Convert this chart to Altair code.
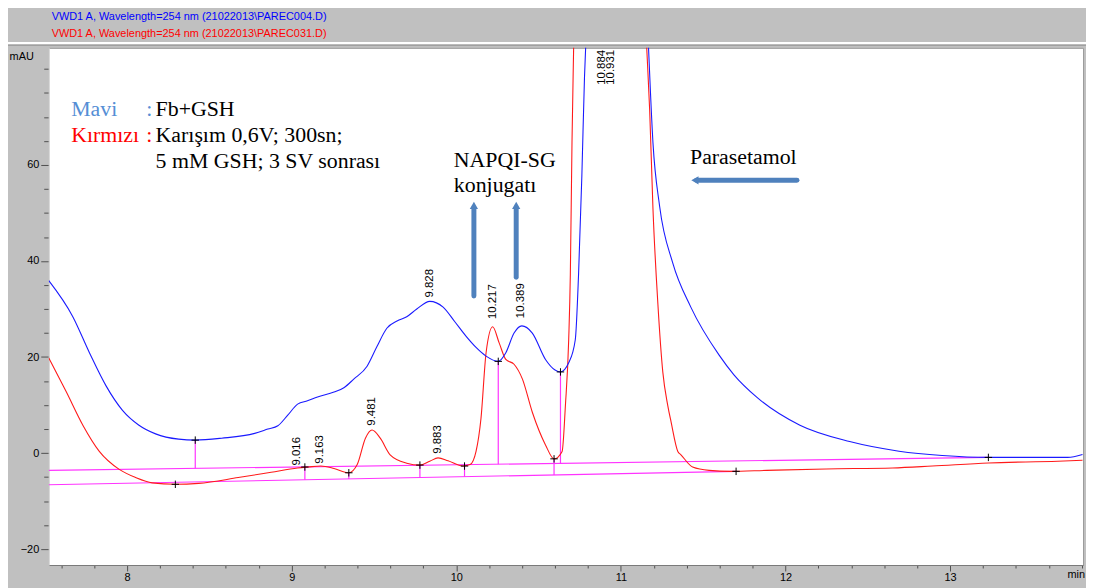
import altair as alt
import pandas as pd
import numpy as np

# ---------------- data ----------------
# Blue trace (Mavi: Fb+GSH); 350 = off-scale apex of the clipped main peak
BLUE_T = [7.524, 7.670, 7.771, 7.872, 7.972, 8.072, 8.173, 8.313, 8.414, 8.574,
          8.775, 8.855, 8.916, 8.976, 9.036, 9.096, 9.157, 9.257, 9.317, 9.377,
          9.458, 9.518, 9.578, 9.640, 9.699, 9.760, 9.839, 9.920, 9.990, 10.060,
          10.120, 10.181, 10.255, 10.301, 10.351, 10.398, 10.462, 10.542, 10.600, 10.633,
          10.683, 10.723, 10.743, 10.763, 10.779, 10.786, 10.931, 11.168, 11.195, 11.235,
          11.315, 11.425, 11.597, 11.687, 11.827, 12.088, 12.390, 12.690, 12.952, 13.233,
          13.715, 13.805]
BLUE_V = [35.9, 28.4, 20.9, 14.0, 8.9, 5.8, 4.0, 2.9, 2.7, 3.1,
          4.1, 5.0, 5.7, 7.9, 10.2, 10.9, 11.7, 12.7, 13.6, 15.4,
          18.1, 22.2, 26.0, 27.5, 28.4, 30.0, 31.6, 30.4, 27.4, 24.3,
          22.0, 20.2, 19.1, 20.9, 25.0, 26.5, 25.0, 19.5, 17.3, 16.9,
          18.8, 23.6, 37.3, 57.8, 78.3, 84.4, 350.0, 84.4, 64.6, 51.5,
          39.6, 30.4, 20.4, 16.3, 11.6, 5.8, 2.4, 0.4, -0.5, -0.9,
          -0.9, -0.3]

# Red trace (Kırmızı: mixture)
RED_T = [7.524, 7.631, 7.731, 7.831, 7.952, 8.052, 8.152, 8.293, 8.434, 8.675,
         8.875, 9.036, 9.100, 9.177, 9.257, 9.347, 9.398, 9.448, 9.488, 9.538,
         9.598, 9.699, 9.779, 9.839, 9.889, 9.950, 10.040, 10.084, 10.120, 10.150,
         10.181, 10.221, 10.261, 10.301, 10.351, 10.402, 10.462, 10.542, 10.594, 10.643,
         10.663, 10.683, 10.693, 10.703, 10.713, 10.884, 11.157, 11.175, 11.195, 11.225,
         11.255, 11.285, 11.305, 11.346, 11.365, 11.436, 11.536, 11.667, 11.886, 12.247,
         12.651, 12.892, 13.233, 13.655, 13.805]
RED_V = [19.8, 12.7, 5.8, 0.35, -3.4, -5.1, -6.2, -6.5, -6.3, -5.1,
         -4.0, -3.1, -2.9, -2.7, -3.2, -4.1, -2.4, 3.1, 4.8, 3.1,
         -0.35, -2.1, -2.5, -1.7, -1.0, -1.6, -2.7, -2.4, 0.35, 7.2,
         20.9, 26.3, 22.9, 19.5, 18.5, 15.4, 8.5, 1.7, -1.2, 0.35,
         9.9, 23.6, 37.3, 64.6, 84.4, 350.0, 84.4, 71.4, 50.9, 31.0,
         16.8, 9.9, 6.5, 0.35, -0.35, -2.9, -3.6, -3.8, -3.6, -3.3,
         -3.1, -2.7, -2.05, -1.7, -1.5]

# Integration baselines (magenta)
BASE_UP_T = [7.5235, 13.233]
BASE_UP_V = [-3.6, -0.9]
BASE_LO_T = [7.5235, 11.70]
BASE_LO_V = [-6.6, -3.8]

# Drop lines: time, value on the trace, which baseline
DROP_T = [8.414, 10.255, 10.633, 9.080, 9.347, 9.779, 10.050, 10.594]
DROP_V = [2.7, 19.1, 16.9, -2.9, -4.1, -2.5, -2.7, -1.2]
DROP_B = ["up", "up", "up", "lo", "lo", "lo", "lo", "lo"]

# Integration event marks (+)
EVT_T = [8.293, 8.414, 9.080, 9.347, 9.779, 10.050, 10.255, 10.594, 10.633, 11.700, 13.233]
EVT_V = [-6.5, 2.7, -2.9, -4.1, -2.5, -2.7, 19.1, -1.2, 16.9, -3.8, -0.9]

# Retention-time labels
PEAK_TEXT = ["9.016", "9.163", "9.481", "9.828", "9.883", "10.217", "10.389", "10.884", "10.931"]
PEAK_T = [9.031, 9.174, 9.490, 9.838, 9.892, 10.224, 10.394, 10.883, 10.940]
PEAK_V = [-2.6, -2.2, 5.7, 32.4, -0.15, 27.9, 28.1, 76.7, 76.7]

# Annotation texts
ANN_TEXT = ["Mavi", ":", "Fb+GSH", "Kırmızı", ":", "Karışım 0,6V; 300sn;",
            "5 mM GSH; 3 SV sonrası", "NAPQI-SG", "konjugatı", "Parasetamol"]
ANN_T = [7.660, 8.116, 8.173, 7.660, 8.116, 8.173, 8.173, 9.985, 9.985, 11.420]
ANN_V = [70.1, 70.1, 70.1, 64.75, 64.75, 64.75, 59.45, 59.6, 54.3, 60.3]
ANN_COLOR = ["#558ed5", "#558ed5", "black", "#ff0000", "#ff0000", "black",
             "black", "black", "black", "black"]

# Arrows
VARROW_T = [10.107, 10.364]
VARROW_V0 = [32.7, 36.6]
VARROW_V1 = [51.0, 51.0]
VHEAD_V = [51.6, 51.6]
HARROW_T0 = [11.46]
HARROW_T1 = [12.07]
HARROW_V = [56.8]
HHEAD_T = [11.45]

HEADER = ["VWD1 A, Wavelength=254 nm (21022013\\PAREC004.D)",
          "VWD1 A, Wavelength=254 nm (21022013\\PAREC031.D)"]
HEADER_COLOR = ["#0000ff", "#ff0000"]

X_TICKS = [7.6, 7.8, 8.0, 8.2, 8.4, 8.6, 8.8, 9.0, 9.2, 9.4, 9.6, 9.8, 10.0, 10.2,
           10.4, 10.6, 10.8, 11.0, 11.2, 11.4, 11.6, 11.8, 12.0, 12.2, 12.4, 12.6,
           12.8, 13.0, 13.2, 13.4, 13.6, 13.8]
Y_TICKS = [-20, -15, -10, -5, 0, 5, 10, 15, 20, 25, 30, 35, 40, 45, 50, 55, 60,
           65, 70, 75, 80]
Y_LABELLED = [-20, 0, 20, 40, 60]

X_DOMAIN = [7.5235, 13.808]
Y_DOMAIN = [-23.31, 84.39]

W, H = 1042, 521
SANS = "Liberation Sans"
SERIF = "Liberation Serif"
MAGENTA = "#ff33ff"
ARROW = "#4f81bd"

# ---------------- scales / axes ----------------
is_major_x = "abs(datum.value - round(datum.value)) < 0.001"
xaxis = alt.Axis(values=X_TICKS, title=None, grid=False,
                 labelExpr=f"{is_major_x} ? format(datum.value, 'd') : ''",
                 tickSize={"condition": {"test": is_major_x, "value": 6}, "value": 3},
                 tickColor="#505050", domainColor="#7a7a7a",
                 labelFont=SANS, labelFontSize=11, labelColor="black",
                 labelPadding=1, labelOverlap=False, labelFlush=False)
is_major_y = "indexof(" + str(Y_LABELLED) + ", datum.value) >= 0"
yaxis = alt.Axis(values=Y_TICKS, title=None, grid=False,
                 labelExpr=f"{is_major_y} ? datum.label : ''",
                 tickSize={"condition": {"test": is_major_y, "value": 8}, "value": 5},
                 tickColor="#505050", domainColor="#e8e8e8",
                 labelFont=SANS, labelFontSize=11, labelColor="black",
                 labelPadding=2, labelOverlap=False, labelFlush=False)
xs = alt.Scale(domain=X_DOMAIN, nice=False, zero=False)
ys = alt.Scale(domain=Y_DOMAIN, nice=False, zero=False)
X = alt.X("t:Q", scale=xs, axis=xaxis)
Y = alt.Y("v:Q", scale=ys, axis=yaxis)

# ---------------- tables ----------------
blue_df = pd.DataFrame({"t": BLUE_T, "v": BLUE_V})
red_df = pd.DataFrame({"t": RED_T, "v": RED_V})
base_df = pd.DataFrame({"t": BASE_UP_T + BASE_LO_T, "v": BASE_UP_V + BASE_LO_V,
                        "b": ["up", "up", "lo", "lo"]})
drop_base = [float(np.interp(t, BASE_UP_T, BASE_UP_V)) if b == "up"
             else float(np.interp(t, BASE_LO_T, BASE_LO_V)) for t, b in zip(DROP_T, DROP_B)]
drop_df = pd.DataFrame({"t": DROP_T, "v": DROP_V, "v2": drop_base})
evt_df = pd.DataFrame({"t": EVT_T, "v": EVT_V})
peak_df = pd.DataFrame({"t": PEAK_T, "v": PEAK_V, "txt": PEAK_TEXT})
ann_df = pd.DataFrame({"t": ANN_T, "v": ANN_V, "txt": ANN_TEXT, "c": ANN_COLOR})
varrow_df = pd.DataFrame({"t": VARROW_T, "v": VARROW_V0, "v2": VARROW_V1, "vh": VHEAD_V})
harrow_df = pd.DataFrame({"t": HARROW_T0, "t2": HARROW_T1, "v": HARROW_V, "th": HHEAD_T})
one = pd.DataFrame({"a": [0]})

# ---------------- layers ----------------
base_lines = alt.Chart(base_df).mark_line(color=MAGENTA, strokeWidth=1.2, clip=True).encode(
    x=X, y=Y, detail="b:N")
drops = alt.Chart(drop_df).mark_rule(color=MAGENTA, strokeWidth=1.2).encode(x=X, y=Y, y2="v2:Q")
red_line = alt.Chart(red_df).mark_line(color="#ff1a1a", strokeWidth=1.1, clip=True,
                                       interpolate="monotone").encode(x=X, y=Y)
blue_line = alt.Chart(blue_df).mark_line(color="#1a1aff", strokeWidth=1.1, clip=True,
                                         interpolate="monotone").encode(x=X, y=Y)
events = alt.Chart(evt_df).mark_point(shape="M-1,0L1,0M0,-1L0,1", size=56, filled=False,
                                      color="black", strokeWidth=1, opacity=1).encode(x=X, y=Y)
peaks = alt.Chart(peak_df).mark_text(angle=270, align="left", baseline="middle", font=SANS,
                                     fontSize=11.5, color="black", clip=True).encode(
    x=X, y=Y, text="txt:N")
ann = alt.Chart(ann_df).mark_text(align="left", baseline="alphabetic", font=SERIF,
                                  fontSize=22).encode(
    x=X, y=Y, text="txt:N", color=alt.Color("c:N", scale=None))
v_shafts = alt.Chart(varrow_df).mark_rule(color=ARROW, strokeWidth=5, strokeCap="round").encode(
    x=X, y=Y, y2="v2:Q")
v_heads = alt.Chart(varrow_df).mark_point(shape="triangle-up", size=70, filled=True,
                                          color=ARROW, opacity=1).encode(
    x=X, y=alt.Y("vh:Q", scale=ys, axis=yaxis))
h_shaft = alt.Chart(harrow_df).mark_rule(color=ARROW, strokeWidth=5, strokeCap="round").encode(
    x=X, x2="t2:Q", y=Y)
h_head = alt.Chart(harrow_df).mark_point(shape="triangle-left", size=70, filled=True,
                                         color=ARROW, opacity=1).encode(
    x=alt.X("th:Q", scale=xs, axis=xaxis), y=Y)

# chart chrome (header band, unit labels)
hdr_df = pd.DataFrame({"txt": HEADER, "c": HEADER_COLOR, "py": [-31, -14]})
header = alt.Chart(hdr_df).mark_text(align="left", baseline="middle", font=SANS,
                                     fontSize=11).encode(
    x=alt.value(3), y=alt.Y("py:Q", scale=None), text="txt:N",
    color=alt.Color("c:N", scale=None))
sep_white = alt.Chart(one).mark_rule(color="white", strokeWidth=2).encode(
    x=alt.value(-41), x2=alt.value(W + 3), y=alt.value(-5))
sep_grey = alt.Chart(one).mark_rule(color="#9a9a9a", strokeWidth=1).encode(
    x=alt.value(-41), x2=alt.value(W + 3), y=alt.value(-2.5))
mau = alt.Chart(one).mark_text(align="right", baseline="middle", font=SANS, fontSize=11,
                               color="black").encode(
    x=alt.value(-15), y=alt.value(9), text=alt.value("mAU"))
minl = alt.Chart(one).mark_text(align="right", baseline="middle", font=SANS, fontSize=11,
                                color="black").encode(
    x=alt.value(W + 2), y=alt.value(H + 10), text=alt.value("min"))

chart = alt.layer(
    base_lines, drops, red_line, blue_line, events, peaks, ann,
    v_shafts, v_heads, h_shaft, h_head,
    header, sep_white, sep_grey, mau, minl
).properties(
    width=W, height=H,
    autosize=alt.AutoSizeParams(type="none"),
    padding={"left": 41, "top": 38, "right": 3, "bottom": 21},
    background="#c0c0c0",
).configure_view(fill="white", stroke="#9a9a9a", strokeWidth=1)

chart.save("out.html", embed_options={"renderer": "svg", "actions": False})
